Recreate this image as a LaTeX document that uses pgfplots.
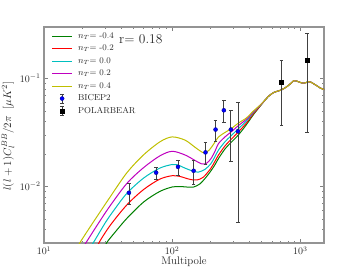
\documentclass[border=0pt]{standalone}
\usepackage{pgfplots}
\pgfplotsset{compat=1.18}
\usepackage{pgfplotstable}
\definecolor{mg}{rgb}{0,0.5,0}
\definecolor{mr}{rgb}{1,0,0}
\definecolor{mc}{rgb}{0,0.75,0.75}
\definecolor{mm}{rgb}{0.75,0,0.75}
\definecolor{my}{rgb}{0.75,0.75,0}

\pgfplotstableread{
l c
28 0.00245
30.9 0.00303
36 0.0038
44.5 0.0051
60 0.0072
80 0.0090
100 0.0099
115 0.0100
130 0.0099
147 0.0099
165 0.0106
185 0.0123
200 0.0139
215 0.0158
230 0.0182
260 0.0225
290 0.0258
330 0.0302
380 0.0375
430 0.0462
480 0.0545
533 0.0635
560 0.0680
619 0.0742
680 0.0770
719 0.0790
790 0.0845
850 0.0910
890 0.0955
930 0.0950
971 0.0932
1020 0.0912
1062 0.0905
1110 0.0918
1161 0.0935
1210 0.0925
1270 0.0894
1350 0.0855
1432 0.0816
1540 0.0790
}\tgreen

\pgfplotstableread{
l c
25 0.00245
26.9 0.00303
33 0.0044
44.5 0.0068
60 0.0094
80 0.0117
100 0.0126
115 0.0124
126 0.0120
140 0.0116
156 0.0115
175 0.0122
200 0.0147
215 0.0170
230 0.0196
260 0.0240
290 0.0275
330 0.0322
380 0.0388
430 0.0472
480 0.0549
533 0.0635
560 0.0680
619 0.0742
680 0.0770
719 0.0790
790 0.0845
850 0.0910
890 0.0955
930 0.0950
971 0.0932
1020 0.0912
1062 0.0905
1110 0.0918
1161 0.0935
1210 0.0925
1270 0.0894
1350 0.0855
1432 0.0816
1540 0.0790
}\tred

\pgfplotstableread{
l c
21.5 0.00245
24.3 0.00303
30 0.0046
35 0.0060
44.5 0.0087
60 0.0120
80 0.0148
100 0.0160
110 0.0159
126 0.0148
145 0.0139
160 0.0136
180 0.0144
200 0.0162
215 0.0188
230 0.0218
260 0.0262
290 0.0297
330 0.0345
380 0.0405
430 0.0485
480 0.0553
533 0.0635
560 0.0680
619 0.0742
680 0.0770
719 0.0790
790 0.0845
850 0.0910
890 0.0955
930 0.0950
971 0.0932
1020 0.0912
1062 0.0905
1110 0.0918
1161 0.0935
1210 0.0925
1270 0.0894
1350 0.0855
1432 0.0816
1540 0.0790
}\tcyan

\pgfplotstableread{
l c
19 0.00245
21.3 0.00303
27 0.0047
33 0.0067
44.5 0.01075
60 0.0150
80 0.0192
100 0.0212
126 0.0196
150 0.0175
170 0.0162
185 0.0164
200 0.0180
215 0.0210
230 0.0250
260 0.0290
290 0.0322
330 0.0368
380 0.0420
430 0.0492
480 0.0557
533 0.0635
560 0.0680
619 0.0742
680 0.0770
719 0.0790
790 0.0845
850 0.0910
890 0.0955
930 0.0950
971 0.0932
1020 0.0912
1062 0.0905
1110 0.0918
1161 0.0935
1210 0.0925
1270 0.0894
1350 0.0855
1432 0.0816
1540 0.0790
}\tmag

\pgfplotstableread{
l c
17 0.00236
19.1 0.00303
24.3 0.0047
32.8 0.0080
44.3 0.0134
59.7 0.0196
80.5 0.0260
100 0.0288
126 0.0269
150 0.0232
165 0.0214
178 0.0205
195 0.0218
212 0.0250
230 0.0288
260 0.0318
290 0.0345
330 0.0388
380 0.0432
430 0.0500
480 0.0560
533 0.0635
560 0.0680
619 0.0742
680 0.0770
719 0.0790
790 0.0845
850 0.0910
890 0.0955
930 0.0950
971 0.0932
1020 0.0912
1062 0.0905
1110 0.0918
1161 0.0935
1210 0.0925
1270 0.0894
1350 0.0855
1432 0.0816
1540 0.0790
}\tyel

\pgfplotstableread{
l c e
46 0.00875 0.00185
75 0.01345 0.0017
111 0.0152 0.0024
147 0.0140 0.0036
182 0.0207 0.0048
218 0.0337 0.0076
253 0.0508 0.0114
287 0.0337 0.0167
326 0.0325 0.0278
}\bicep

\pgfplotstableread{
l c e
712 0.0925 0.056
1125 0.147 0.115
}\polar

\begin{document}
\begin{tikzpicture}[x=1bp,y=1bp]
\path[use as bounding box] (0,0) rectangle (360,270);
\begin{axis}[
  at={(44bp,27bp)}, anchor=south west,
  scale only axis, width=280bp, height=216bp,
  xmode=log, ymode=log,
  xmin=10, xmax=1530, ymin=0.003, ymax=0.3,
  axis line style={black!42, line width=1.6bp},
  tick style={black!50, line width=0.6bp},
  major tick length=4bp, minor tick length=2bp,
  tick align=inside,
  tick label style={font=\fontsize{10}{12}\selectfont, text=black!85},
  label style={font=\fontsize{11}{13}\selectfont, text=black!85},
  xlabel={Multipole},
  ylabel={$l(l+1)C_l^{BB}/2\pi\ \ [\mu K^2]$},
  xlabel style={at={(axis description cs:0.5,-0.0625)}, anchor=north, inner sep=0pt},
  ylabel style={at={(axis description cs:-0.1286,0.495)}, anchor=center, inner sep=0pt},
  legend cell align=left,
  legend style={at={(rel axis cs:0.014,0.981)}, anchor=north west, draw=none, fill=none,
    font=\fontsize{8.7}{10}\selectfont, inner sep=0pt, row sep=3bp,
    nodes={inner sep=1bp, text height=6bp, text depth=1.5bp, text=black!85}},
  legend image code/.code={\path[draw=none, fill=none] (0bp,-2bp) rectangle (29bp,2bp); \draw[#1, overlay] (4bp,0bp) -- (24bp,0bp);},
]
\addplot[mg, line width=1bp, smooth, tension=0.5] table[x=l,y=c] {\tgreen};
\addlegendentry{$n_T$= -0.4}
\addplot[mr, line width=1bp, smooth, tension=0.5] table[x=l,y=c] {\tred};
\addlegendentry{$n_T$= -0.2}
\addplot[mc, line width=1bp, smooth, tension=0.5] table[x=l,y=c] {\tcyan};
\addlegendentry{$n_T$= 0.0}
\addplot[mm, line width=1bp, smooth, tension=0.5] table[x=l,y=c] {\tmag};
\addlegendentry{$n_T$= 0.2}
\addplot[my, line width=1bp, smooth, tension=0.5] table[x=l,y=c] {\tyel};
\addlegendentry{$n_T$= 0.4}
\addplot[only marks, mark=*, mark size=2bp, mark options={fill=blue, draw=blue!60!black, line width=0.4bp},
  error bars/.cd, y dir=both, y explicit,
  error bar style={black!75, line width=0.7bp},
  error mark options={rotate=90, mark size=1.8bp, black!75, line width=0.7bp},
  /pgfplots/.cd,
  legend image code/.code={\path[draw=none, fill=none] (0bp,-2bp) rectangle (29bp,2bp);
  \draw[black!75, line width=0.7bp, overlay] (14bp,-4.5bp) -- (14bp,4.5bp) (12.2bp,-4.5bp) -- (15.8bp,-4.5bp) (12.2bp,4.5bp) -- (15.8bp,4.5bp);
  \fill[blue, draw=blue!60!black, line width=0.4bp, overlay] (14bp,0bp) circle (2bp);},
  ] table[x=l, y=c, y error=e] {\bicep};
\addlegendentry{BICEP2}
\addplot[only marks, mark=square*, mark size=2bp, mark options={fill=black, draw=black},
  error bars/.cd, y dir=both, y explicit,
  error bar style={black!75, line width=0.7bp},
  error mark options={rotate=90, mark size=1.8bp, black!75, line width=0.7bp},
  /pgfplots/.cd,
  legend image code/.code={\path[draw=none, fill=none] (0bp,-2bp) rectangle (29bp,2bp);
  \draw[black!75, line width=0.7bp, overlay] (14bp,-4.5bp) -- (14bp,4.5bp) (12.2bp,-4.5bp) -- (15.8bp,-4.5bp) (12.2bp,4.5bp) -- (15.8bp,4.5bp);
  \fill[black, draw=black, overlay] (12bp,-2bp) rectangle (16bp,2bp);},
  ] table[x=l, y=c, y error=e] {\polar};
\addlegendentry{POLARBEAR}
\node[anchor=west, font=\fontsize{13.5}{16}\selectfont, inner sep=0pt, text=black!85] at (rel axis cs:0.268,0.944) {r= 0.18};
\end{axis}
\end{tikzpicture}
\end{document}
